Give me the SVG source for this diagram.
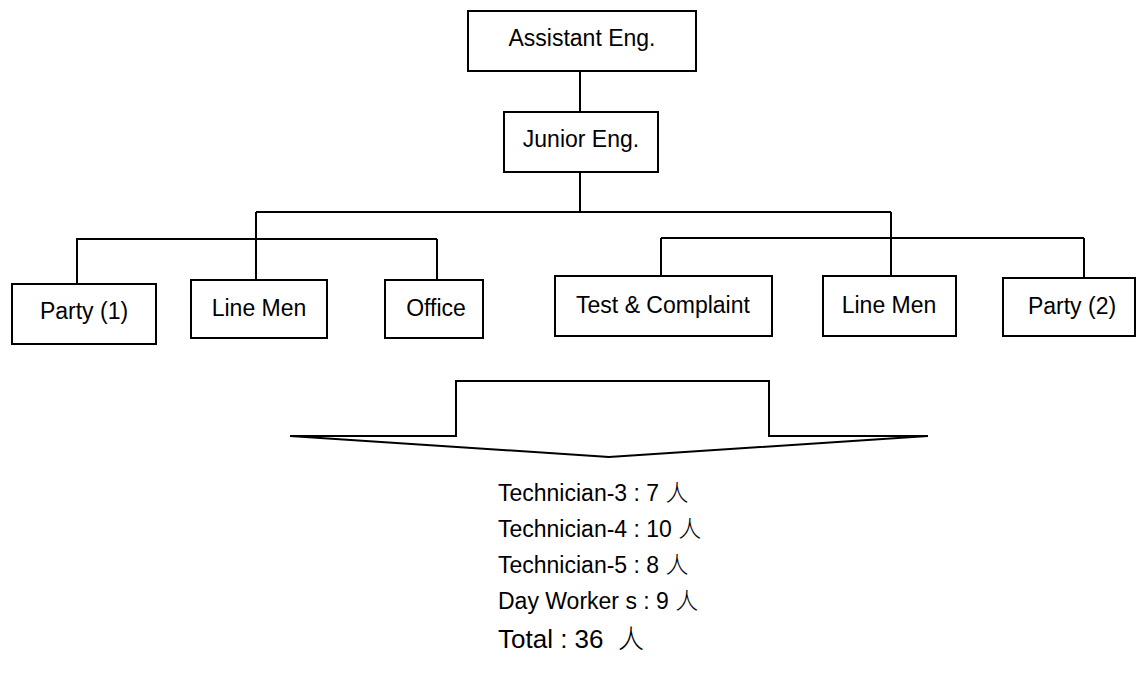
<svg xmlns="http://www.w3.org/2000/svg" width="1139" height="689" viewBox="0 0 1139 689">
<style>
.box{fill:#fff;stroke:#000;stroke-width:2}
.ln{fill:none;stroke:#000;stroke-width:2}
.t{font-family:"Liberation Sans",Arial,sans-serif;font-size:23px;fill:#000;text-anchor:middle}
.l{font-family:"Liberation Sans",Arial,"Noto Sans CJK SC",sans-serif;font-size:23px;fill:#000}
.cj{font-family:"Noto Sans CJK SC",sans-serif;font-weight:300}
</style>
<rect width="1139" height="689" fill="#fff"/>
<g id="connectors" class="ln">
<path d="M580 71V112"/>
<path d="M580 172V212"/>
<path d="M256 212H891"/>
<path d="M256 212V280"/>
<path d="M891 212V276"/>
<path d="M76 239H437"/>
<path d="M77 239V284"/>
<path d="M437 239V280"/>
<path d="M661 238H1084"/>
<path d="M661 238V276"/>
<path d="M1084 238V278"/>
</g>
<g id="assistant"><rect class="box" x="468" y="11" width="228" height="60"/><text class="t" x="582" y="46">Assistant Eng.</text></g>
<g id="junior"><rect class="box" x="504" y="112" width="154" height="60"/><text class="t" x="581" y="147">Junior Eng.</text></g>
<g id="party1"><rect class="box" x="12" y="284" width="144" height="60"/><text class="t" x="84" y="319">Party (1)</text></g>
<g id="linemen1"><rect class="box" x="191" y="280" width="136" height="58"/><text class="t" x="259" y="316">Line Men</text></g>
<g id="office"><rect class="box" x="385" y="280" width="98" height="58"/><text class="t" x="436" y="316">Office</text></g>
<g id="test"><rect class="box" x="555" y="276" width="217" height="60"/><text class="t" x="663" y="313">Test &amp; Complaint</text></g>
<g id="linemen2"><rect class="box" x="823" y="276" width="133" height="60"/><text class="t" x="889" y="313">Line Men</text></g>
<g id="party2"><rect class="box" x="1003" y="278" width="132" height="58"/><text class="t" x="1072" y="314">Party (2)</text></g>
<g id="arrow"><path class="ln" d="M290 436H456V381H769V436H928L609 457Z" stroke-linejoin="miter"/></g>
<g id="summary">
<text class="l" x="498" y="501">Technician-3 : 7 <tspan class="cj">人</tspan></text>
<text class="l" x="498" y="537">Technician-4 : 10 <tspan class="cj">人</tspan></text>
<text class="l" x="498" y="573">Technician-5 : 8 <tspan class="cj">人</tspan></text>
<text class="l" x="498" y="609">Day Worker s : 9 <tspan class="cj">人</tspan></text>
<text class="l" x="498" y="648" style="font-size:26px" xml:space="preserve">Total : 36  <tspan class="cj">人</tspan></text>
</g>
</svg>
